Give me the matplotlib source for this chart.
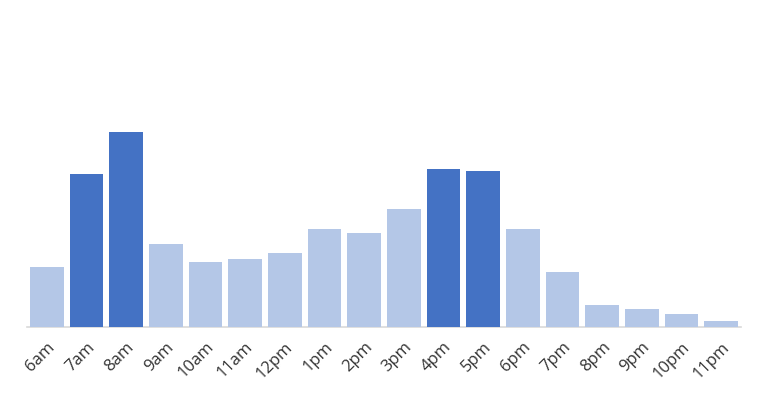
import matplotlib
matplotlib.use("Agg")
import matplotlib.pyplot as plt

hours = ["6am", "7am", "8am", "9am", "10am", "11am", "12pm", "1pm", "2pm",
         "3pm", "4pm", "5pm", "6pm", "7pm", "8pm", "9pm", "10pm", "11pm"]
values = [59, 151, 193, 82, 64, 67, 73, 97, 93,
          116.5, 156, 153.5, 97, 54, 21, 17, 12, 5.5]
peak = [False, True, True, False, False, False, False, False, False,
        False, True, True, False, False, False, False, False, False]

DARK = "#4472C4"
LIGHT = "#B4C7E7"

fig = plt.figure(figsize=(7.65, 4.0), dpi=100)
ax = fig.add_axes([27 / 765, 73.5 / 400, 714 / 765, 300 / 400])
x = list(range(len(hours)))
colors = [DARK if p else LIGHT for p in peak]
ax.bar(x, values, width=0.845, color=colors, linewidth=0, zorder=2)
ax.set_xlim(-0.5, len(hours) - 0.5)
ax.set_ylim(0, 297)

for s in ["top", "right", "left"]:
    ax.spines[s].set_visible(False)
ax.spines["bottom"].set_color("#D9D9D9")
ax.spines["bottom"].set_linewidth(1.2)
ax.spines["bottom"].set_zorder(1)
ax.set_yticks([])
ax.set_xticks(x)
ax.set_xticklabels(hours, rotation=45, ha="right", va="top", rotation_mode="anchor",
                   fontsize=12, color="#333333", family=["Open Sans", "DejaVu Sans"])
ax.tick_params(axis="x", length=0, pad=9)

fig.savefig("out.png", dpi=100, facecolor="white")
